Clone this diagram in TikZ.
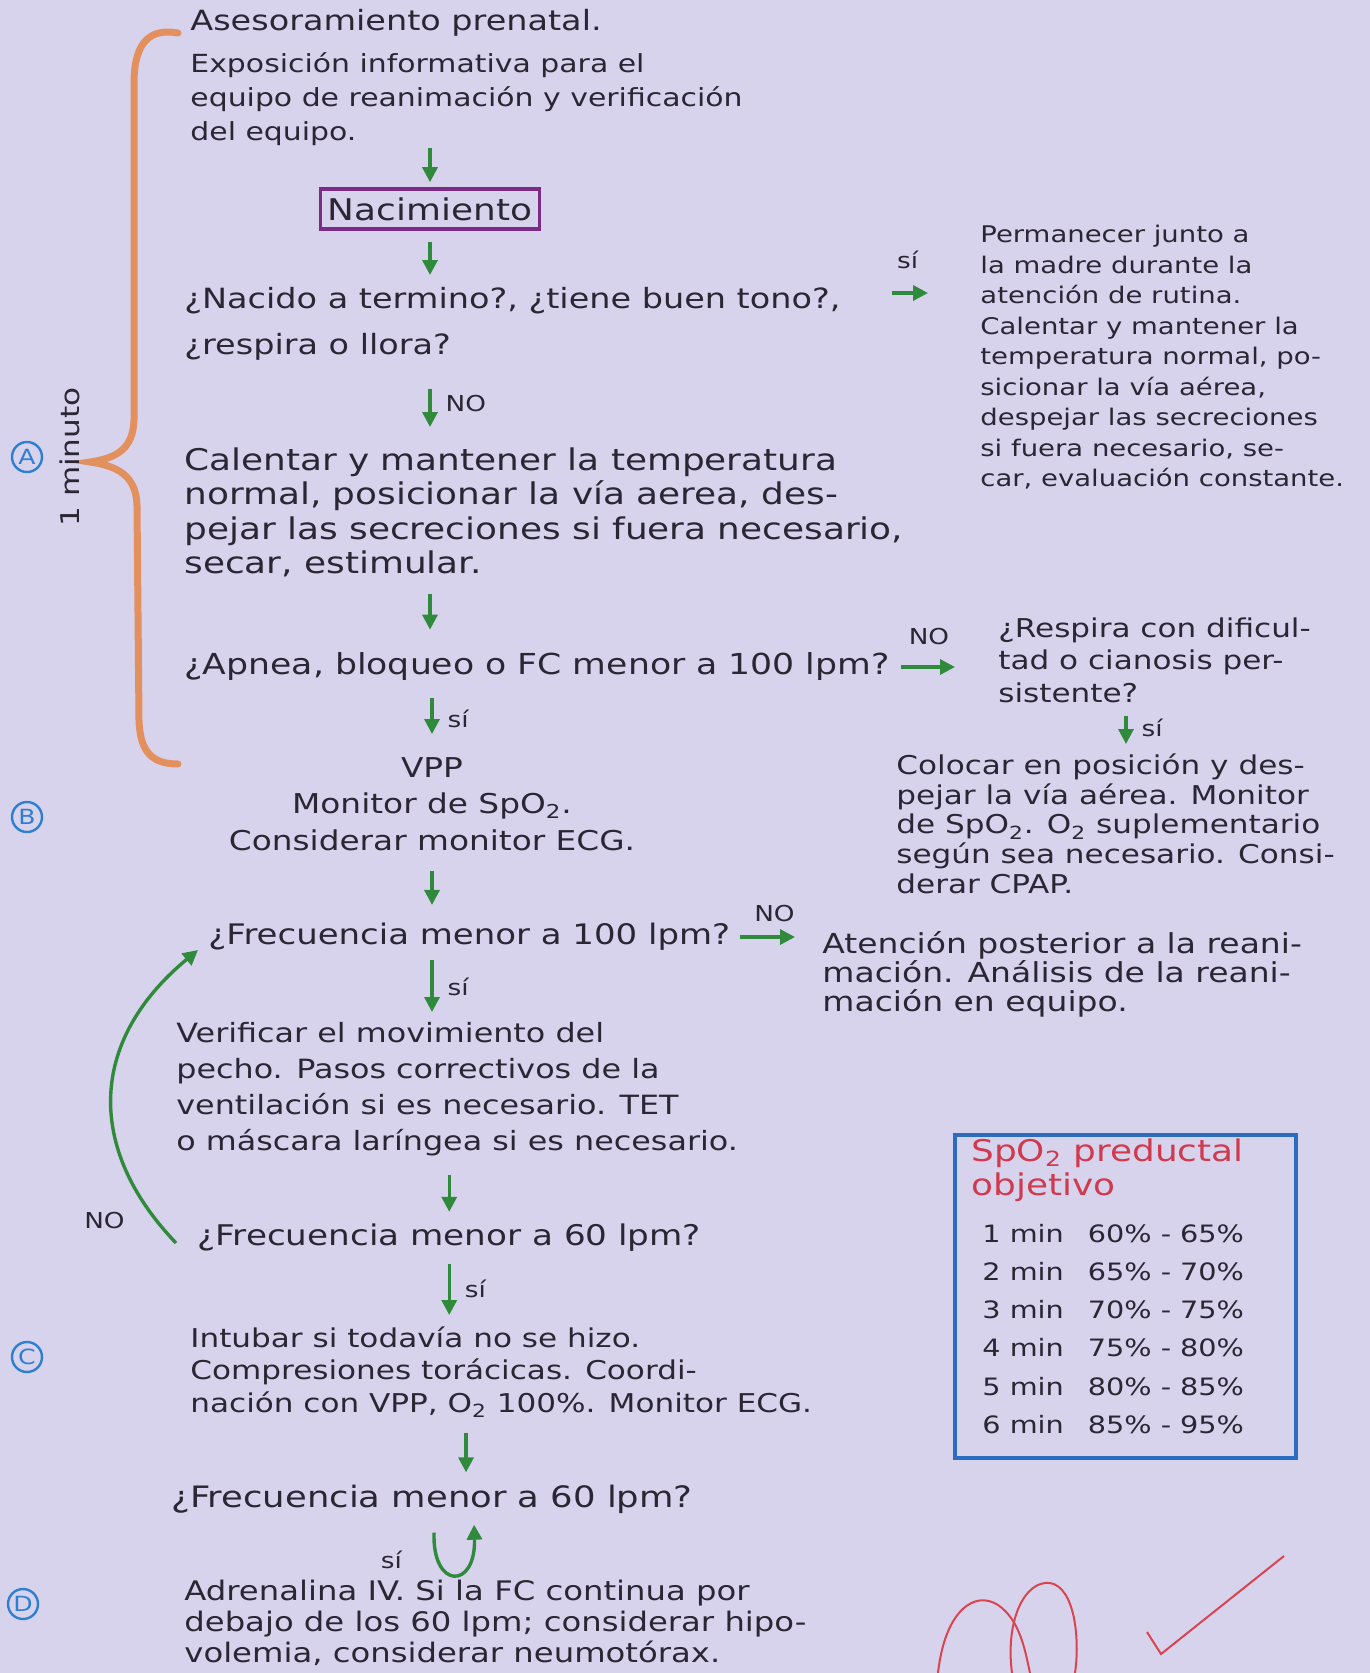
\documentclass[tikz,border=0pt]{standalone}
\usepackage{fontspec}
\usepackage{tikz}
\usepackage{xcolor}
\usetikzlibrary{arrows.meta}
\usetikzlibrary{calc}
\newfontfamily\handFont[FakeStretch=1.2]{DejaVu Sans}
\newcommand{\handSize}[2]{\handFont\fontsize{#1}{#2}\selectfont}
\definecolor{paperColor}{HTML}{D8D3ED}
\definecolor{inkColor}{HTML}{2B2633}
\definecolor{arrowColor}{HTML}{2F8A3B}
\definecolor{braceColor}{HTML}{E3905F}
\definecolor{boxColor}{HTML}{7A2B88}
\definecolor{letterColor}{HTML}{2F7FD0}
\definecolor{tableColor}{HTML}{2C6CC0}
\definecolor{titleColor}{HTML}{D03A4E}
\definecolor{signColor}{HTML}{D8454F}
\def\textA{Asesoramiento prenatal.}
\def\textB{Exposición informativa para el\\equipo de reanimación y verificación\\del equipo.}
\def\textC{Nacimiento}
\def\textD{¿Nacido a termino?, ¿tiene buen tono?,\\¿respira o llora?}
\def\textE{Permanecer junto a\\la madre durante la\\atención de rutina.\\Calentar y mantener la\\temperatura normal, po-\\sicionar la vía aérea,\\despejar las secreciones\\si fuera necesario, se-\\car, evaluación constante.}
\def\textF{Calentar y mantener la temperatura\\normal, posicionar la vía aerea, des-\\pejar las secreciones si fuera necesario,\\secar, estimular.}
\def\textG{¿Apnea, bloqueo o FC menor a 100 lpm?}
\def\textH{¿Respira con dificul-\\tad o cianosis per-\\sistente?}
\def\textI{Colocar en posición y des-\\pejar la vía aérea. Monitor\\de SpO\textsubscript{2}. O\textsubscript{2} suplementario\\según sea necesario. Consi-\\derar CPAP.}
\def\textJ{VPP\\Monitor de SpO\textsubscript{2}.\\Considerar monitor ECG.}
\def\textK{¿Frecuencia menor a 100 lpm?}
\def\textL{Atención posterior a la reani-\\mación. Análisis de la reani-\\mación en equipo.}
\def\textM{Verificar el movimiento del\\pecho. Pasos correctivos de la\\ventilación si es necesario. TET\\o máscara laríngea si es necesario.}
\def\textN{¿Frecuencia menor a 60 lpm?}
\def\textO{Intubar si todavía no se hizo.\\Compresiones torácicas. Coordi-\\nación con VPP, O\textsubscript{2} 100\%. Monitor ECG.}
\def\textP{Adrenalina IV. Si la FC continua por\\debajo de los 60 lpm; considerar hipo-\\volemia, considerar neumotórax.}

\begin{document}
\begin{tikzpicture}[x=0.5bp,y=-0.5bp,
  hand/.style={anchor=north west, inner sep=0pt, align=left, text=inkColor},
  flecha/.style={draw=arrowColor, line width=1.7bp, -{Triangle[length=7.5bp,width=7.5bp]}},
  rotulo/.style={inner sep=1bp, text=inkColor, font=\handSize{11}{13}},
  letra/.style={circle, draw=letterColor, text=letterColor, line width=1.2bp,
    minimum size=15bp, inner sep=0pt, font=\handSize{10.5}{12}}]

% paper
\path[use as bounding box] (0,0) rectangle (1370,1673);
\fill[paperColor] (0,0) rectangle (1370,1673);

% brace layer
\begin{scope}
\draw[braceColor, line width=3.5bp, line cap=round] (178,33) .. controls
(150,28) and (135,42) .. (134,80) -- (134,420) .. controls
(133,448) and (118,458) .. (90,462) .. controls
(118,466) and (136,476) .. (137,505) -- (139,720) .. controls
(140,752) and (152,764) .. (178,764);
\node[rotate=90, text=inkColor, font=\handSize{13}{15}] (minuto) at (70,457) {1 minuto};
\node[letra] (circA) at (27,457) {A};
\node[letra] (circB) at (27,817) {B};
\node[letra] (circC) at (27,1357) {C};
\node[letra] (circD) at (23,1604) {D};
\end{scope}

% text layer
\begin{scope}
\node[hand, anchor=west, font=\handSize{14}{17}] (asesor) at (190,23) {\textA};
\node[hand, font=\handSize{12.5}{17}] (expo) at (190,52) {\textB};
\node[draw=boxColor, line width=1.8bp, minimum width=109.5bp, minimum height=20bp,
  inner sep=0pt, text=inkColor, font=\handSize{15}{17}] (naci) at (430,209) {\textC};
\node[hand, font=\handSize{14}{23}] (pregA) at (184,287) {\textD};
\node[hand, font=\handSize{11.5}{15.3}] (rutina) at (980,225) {\textE};
\node[hand, font=\handSize{15}{17.3}] (calentar) at (184,447) {\textF};
\node[hand, anchor=west, font=\handSize{14.5}{17}] (apnea) at (184,667) {\textG};
\node[hand, font=\handSize{13}{16.5}] (respira) at (998,617) {\textH};
\node[hand, font=\handSize{13}{15}] (colocar) at (896,753) {\textI};
\node[hand, anchor=north, align=center, font=\handSize{13.7}{18.3}] (vpp) at (432,757) {\textJ};
\node[hand, anchor=west, font=\handSize{14.2}{17}] (frec100) at (208,937) {\textK};
\node[hand, font=\handSize{13.8}{14.7}] (atencion) at (822,931) {\textL};
\node[hand, font=\handSize{13.3}{18}] (verificar) at (176,1022) {\textM};
\node[hand, anchor=west, font=\handSize{14.3}{17}] (frec60a) at (197,1238) {\textN};
\node[hand, font=\handSize{13}{16.3}] (intubar) at (190,1326) {\textO};
\node[hand, anchor=west, font=\handSize{14.8}{17}] (frec60b) at (171,1499) {\textN};
\node[hand, font=\handSize{13.5}{15.5}] (adrena) at (184,1580) {\textP};
\end{scope}

% arrow layer
\begin{scope}
\draw[flecha, shorten <=1bp, shorten >=2.5bp] (naci.north |- expo.south) -- (naci.north);
\draw[flecha, shorten <=5.5bp, shorten >=6bp] (naci.south) -- (naci.south |- pregA.north);
\draw[flecha, shorten <=25.5bp, shorten >=26bp] ($(pregA.north east)+(0,6)$) --
($(pregA.north east -| rutina.west)+(0,6)$) node[rotulo, pos=.48, above=10bp] {sí};
\draw[flecha, shorten <=14bp, shorten >=10bp] (pregA.south -| naci.south) --
(calentar.north -| naci.south) node[rotulo, midway, right=6bp] {NO};
\draw[flecha, shorten <=8.5bp, shorten >=11.5bp] (calentar.south -| naci.south) -- (apnea.north -| naci.south);
\draw[flecha, shorten <=5.5bp, shorten >=21.5bp] (apnea.east) --
(apnea.east -| respira.west) node[rotulo, pos=.36, above=9bp] {NO};
\draw[flecha, shorten <=6bp, shorten >=4.5bp] ($(respira.south west)+(128,0)$) --
($(respira.south west |- colocar.north)+(128,0)$) node[rotulo, midway, right=6bp] {sí};
\draw[flecha, shorten <=8.5bp, shorten >=11.5bp] (apnea.south -| vpp.north) --
(vpp.north) node[rotulo, midway, right=6bp] {sí};
\draw[flecha, shorten <=10bp, shorten >=9bp] (vpp.south) -- (vpp.south |- frec100.north);
\draw[flecha, shorten <=4.5bp, shorten >=13.5bp] (frec100.east) --
(frec100.east -| atencion.west) node[rotulo, pos=.48, above=6bp] {NO};
\draw[flecha, shorten <=4.5bp, shorten >=5bp] (frec100.south -| vpp.south) --
(verificar.north -| vpp.south) node[rotulo, midway, right=6bp] {sí};
\draw[flecha, shorten <=9.5bp, shorten >=6bp] (verificar.south -| frec60a.north) -- (frec60a.north);
\draw[flecha] ($(frec60a.west)+(-21,5)$) .. controls ($(frec60a.west)+(-110,-88)$)
and ($(frec100.west)+(-121,105)$) .. ($(frec100.west)+(-10,13)$) node[rotulo, pos=.08, left=14bp] {NO};
\draw[flecha, shorten <=6bp, shorten >=5.5bp] (frec60a.south) --
(frec60a.south |- intubar.north) node[rotulo, midway, right=6bp] {sí};
\draw[flecha, shorten <=7.5bp, shorten >=6bp] ($(intubar.south -| frec60b.north)+(34,0)$) -- ($(frec60b.north)+(34,0)$);
\draw[flecha] ($(frec60b.south)+(2,19)$) .. controls ($(frec60b.south)+(0,76)$)
and ($(frec60b.south)+(44,76)$) .. ($(frec60b.south)+(42,11)$) node[rotulo, pos=.2, left=16bp] {sí};
\end{scope}

% table layer
\begin{scope}
\node[draw=tableColor, line width=1.8bp, minimum width=170.5bp, minimum height=161.5bp,
  anchor=north west, inner sep=0pt] (spoBox) at (953,1133) {};
\node[hand, text=titleColor, font=\handSize{15}{17.5}] (spoTitle) at (971,1138) {SpO\textsubscript{2} preductal\\objetivo};
\node[hand, font=\handSize{12}{19.2}] (spoRows) at (982,1215) {\begin{tabular}{@{}l@{\hspace{12bp}}l@{}}
1 min & 60\% - 65\%\\
2 min & 65\% - 70\%\\
3 min & 70\% - 75\%\\
4 min & 75\% - 80\%\\
5 min & 80\% - 85\%\\
6 min & 85\% - 95\%
\end{tabular}};
\end{scope}

% signature layer
\begin{scope}
\draw[signColor, line width=1bp] (938,1673) .. controls
(945,1610) and (975,1590) .. (998,1605) .. controls
(1020,1620) and (1025,1650) .. (1030,1673);
\draw[signColor, line width=1bp] (1012,1673) .. controls
(1005,1620) and (1025,1580) .. (1050,1583) .. controls
(1075,1587) and (1080,1640) .. (1075,1673);
\draw[signColor, line width=1bp] (1147,1632) -- (1161,1654) -- (1284,1556);
\end{scope}

\end{tikzpicture}
\end{document}
